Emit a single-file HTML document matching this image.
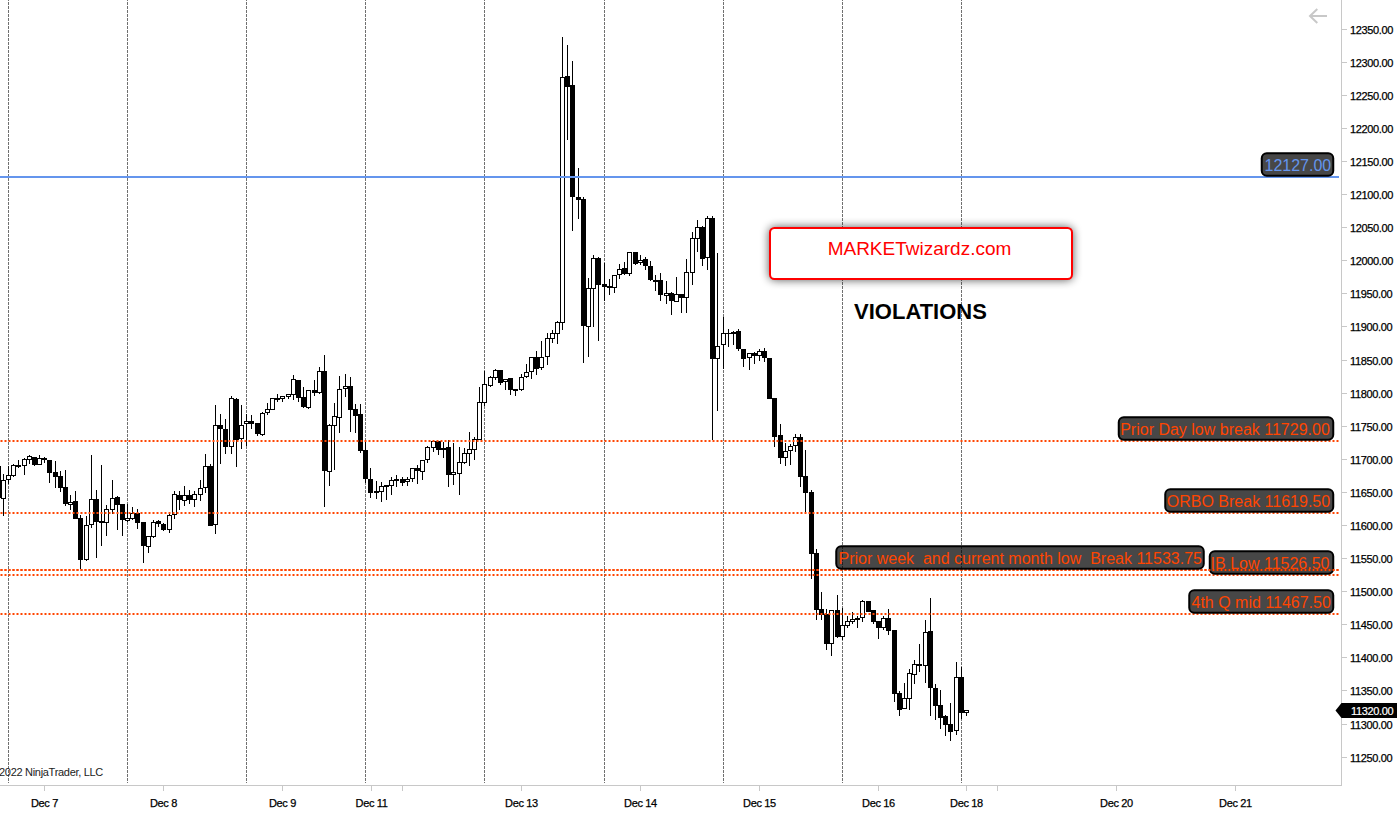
<!DOCTYPE html>
<html><head><meta charset="utf-8"><style>
html,body{margin:0;padding:0;background:#fff;}
svg{display:block;font-family:"Liberation Sans", sans-serif;}
text{white-space:pre;}
</style></head><body>
<svg width="1397" height="814" viewBox="0 0 1397 814">
<defs><filter id="sh" x="-20%" y="-50%" width="140%" height="200%"><feGaussianBlur stdDeviation="5"/></filter></defs>
<rect width="1397" height="814" fill="#fff"/>
<g stroke="#707070" stroke-width="1" stroke-dasharray="3 1" stroke-dashoffset="2" shape-rendering="crispEdges"><line x1="8.5" y1="0" x2="8.5" y2="783" /><line x1="127.5" y1="0" x2="127.5" y2="783" /><line x1="246.5" y1="0" x2="246.5" y2="783" /><line x1="365.5" y1="0" x2="365.5" y2="783" /><line x1="484.5" y1="0" x2="484.5" y2="783" /><line x1="604.5" y1="0" x2="604.5" y2="783" /><line x1="723.5" y1="0" x2="723.5" y2="783" /><line x1="842.5" y1="0" x2="842.5" y2="783" /><line x1="961.5" y1="0" x2="961.5" y2="783" /></g>
<g shape-rendering="crispEdges"><rect x="-4" y="466" width="5" height="32" fill="#000"/><rect x="3" y="474" width="1" height="6" fill="#000"/><rect x="3" y="499" width="1" height="17" fill="#000"/><rect x="1" y="480" width="5" height="19" fill="#000"/><rect x="2" y="481" width="3" height="17" fill="#fff"/><rect x="8" y="466" width="1" height="9" fill="#000"/><rect x="8" y="480" width="1" height="4" fill="#000"/><rect x="6" y="475" width="5" height="5" fill="#000"/><rect x="7" y="476" width="3" height="3" fill="#fff"/><rect x="13" y="464" width="1" height="1" fill="#000"/><rect x="13" y="476" width="1" height="1" fill="#000"/><rect x="11" y="465" width="5" height="11" fill="#000"/><rect x="12" y="466" width="3" height="9" fill="#fff"/><rect x="18" y="460" width="1" height="5" fill="#000"/><rect x="18" y="467" width="1" height="1" fill="#000"/><rect x="16" y="465" width="5" height="2" fill="#000"/><rect x="24" y="458" width="1" height="1" fill="#000"/><rect x="24" y="466" width="1" height="9" fill="#000"/><rect x="22" y="459" width="5" height="7" fill="#000"/><rect x="23" y="460" width="3" height="5" fill="#fff"/><rect x="29" y="455" width="1" height="1" fill="#000"/><rect x="29" y="460" width="1" height="4" fill="#000"/><rect x="27" y="456" width="5" height="4" fill="#000"/><rect x="28" y="457" width="3" height="2" fill="#fff"/><rect x="34" y="465" width="1" height="1" fill="#000"/><rect x="32" y="457" width="5" height="8" fill="#000"/><rect x="39" y="455" width="1" height="3" fill="#000"/><rect x="37" y="458" width="5" height="7" fill="#000"/><rect x="38" y="459" width="3" height="5" fill="#fff"/><rect x="44" y="457" width="1" height="1" fill="#000"/><rect x="44" y="460" width="1" height="3" fill="#000"/><rect x="42" y="458" width="5" height="2" fill="#000"/><rect x="49" y="473" width="1" height="10" fill="#000"/><rect x="47" y="460" width="5" height="13" fill="#000"/><rect x="55" y="461" width="1" height="11" fill="#000"/><rect x="55" y="477" width="1" height="11" fill="#000"/><rect x="53" y="472" width="5" height="5" fill="#000"/><rect x="60" y="471" width="1" height="5" fill="#000"/><rect x="60" y="488" width="1" height="4" fill="#000"/><rect x="58" y="476" width="5" height="12" fill="#000"/><rect x="65" y="470" width="1" height="17" fill="#000"/><rect x="65" y="504" width="1" height="2" fill="#000"/><rect x="63" y="487" width="5" height="17" fill="#000"/><rect x="70" y="495" width="1" height="7" fill="#000"/><rect x="70" y="504" width="1" height="6" fill="#000"/><rect x="68" y="502" width="5" height="3" fill="#000"/><rect x="69" y="503" width="3" height="1" fill="#fff"/><rect x="75" y="491" width="1" height="10" fill="#000"/><rect x="73" y="501" width="5" height="18" fill="#000"/><rect x="80" y="515" width="1" height="3" fill="#000"/><rect x="80" y="560" width="1" height="9" fill="#000"/><rect x="78" y="518" width="5" height="42" fill="#000"/><rect x="86" y="516" width="1" height="9" fill="#000"/><rect x="86" y="560" width="1" height="1" fill="#000"/><rect x="84" y="525" width="5" height="35" fill="#000"/><rect x="85" y="526" width="3" height="33" fill="#fff"/><rect x="91" y="455" width="1" height="44" fill="#000"/><rect x="91" y="525" width="1" height="3" fill="#000"/><rect x="89" y="499" width="5" height="26" fill="#000"/><rect x="90" y="500" width="3" height="24" fill="#fff"/><rect x="96" y="490" width="1" height="9" fill="#000"/><rect x="96" y="522" width="1" height="36" fill="#000"/><rect x="94" y="499" width="5" height="23" fill="#000"/><rect x="101" y="465" width="1" height="56" fill="#000"/><rect x="101" y="523" width="1" height="23" fill="#000"/><rect x="99" y="521" width="5" height="2" fill="#000"/><rect x="106" y="505" width="1" height="4" fill="#000"/><rect x="106" y="523" width="1" height="13" fill="#000"/><rect x="104" y="509" width="5" height="14" fill="#000"/><rect x="105" y="510" width="3" height="12" fill="#fff"/><rect x="112" y="480" width="1" height="18" fill="#000"/><rect x="112" y="510" width="1" height="4" fill="#000"/><rect x="110" y="498" width="5" height="12" fill="#000"/><rect x="111" y="499" width="3" height="10" fill="#fff"/><rect x="117" y="496" width="1" height="1" fill="#000"/><rect x="117" y="505" width="1" height="25" fill="#000"/><rect x="115" y="497" width="5" height="8" fill="#000"/><rect x="122" y="520" width="1" height="16" fill="#000"/><rect x="120" y="504" width="5" height="16" fill="#000"/><rect x="127" y="504" width="1" height="14" fill="#000"/><rect x="127" y="520" width="1" height="2" fill="#000"/><rect x="125" y="518" width="5" height="3" fill="#000"/><rect x="126" y="519" width="3" height="1" fill="#fff"/><rect x="132" y="507" width="1" height="6" fill="#000"/><rect x="132" y="519" width="1" height="1" fill="#000"/><rect x="130" y="513" width="5" height="6" fill="#000"/><rect x="131" y="514" width="3" height="4" fill="#fff"/><rect x="137" y="509" width="1" height="4" fill="#000"/><rect x="137" y="523" width="1" height="6" fill="#000"/><rect x="135" y="513" width="5" height="10" fill="#000"/><rect x="143" y="546" width="1" height="17" fill="#000"/><rect x="141" y="522" width="5" height="24" fill="#000"/><rect x="148" y="547" width="1" height="6" fill="#000"/><rect x="146" y="536" width="5" height="11" fill="#000"/><rect x="147" y="537" width="3" height="9" fill="#fff"/><rect x="153" y="520" width="1" height="2" fill="#000"/><rect x="153" y="537" width="1" height="1" fill="#000"/><rect x="151" y="522" width="5" height="15" fill="#000"/><rect x="152" y="523" width="3" height="13" fill="#fff"/><rect x="158" y="520" width="1" height="1" fill="#000"/><rect x="158" y="524" width="1" height="3" fill="#000"/><rect x="156" y="521" width="5" height="3" fill="#000"/><rect x="163" y="523" width="1" height="1" fill="#000"/><rect x="163" y="530" width="1" height="1" fill="#000"/><rect x="161" y="524" width="5" height="6" fill="#000"/><rect x="169" y="514" width="1" height="1" fill="#000"/><rect x="169" y="530" width="1" height="3" fill="#000"/><rect x="167" y="515" width="5" height="15" fill="#000"/><rect x="168" y="516" width="3" height="13" fill="#fff"/><rect x="174" y="491" width="1" height="3" fill="#000"/><rect x="174" y="515" width="1" height="4" fill="#000"/><rect x="172" y="494" width="5" height="21" fill="#000"/><rect x="173" y="495" width="3" height="19" fill="#fff"/><rect x="179" y="491" width="1" height="4" fill="#000"/><rect x="179" y="500" width="1" height="10" fill="#000"/><rect x="177" y="495" width="5" height="5" fill="#000"/><rect x="184" y="486" width="1" height="9" fill="#000"/><rect x="184" y="501" width="1" height="5" fill="#000"/><rect x="182" y="495" width="5" height="6" fill="#000"/><rect x="183" y="496" width="3" height="4" fill="#fff"/><rect x="189" y="490" width="1" height="5" fill="#000"/><rect x="189" y="500" width="1" height="4" fill="#000"/><rect x="187" y="495" width="5" height="5" fill="#000"/><rect x="194" y="491" width="1" height="3" fill="#000"/><rect x="194" y="500" width="1" height="7" fill="#000"/><rect x="192" y="494" width="5" height="6" fill="#000"/><rect x="193" y="495" width="3" height="4" fill="#fff"/><rect x="200" y="480" width="1" height="8" fill="#000"/><rect x="200" y="495" width="1" height="6" fill="#000"/><rect x="198" y="488" width="5" height="7" fill="#000"/><rect x="199" y="489" width="3" height="5" fill="#fff"/><rect x="205" y="454" width="1" height="12" fill="#000"/><rect x="205" y="488" width="1" height="5" fill="#000"/><rect x="203" y="466" width="5" height="22" fill="#000"/><rect x="204" y="467" width="3" height="20" fill="#fff"/><rect x="210" y="464" width="1" height="2" fill="#000"/><rect x="208" y="466" width="5" height="60" fill="#000"/><rect x="215" y="405" width="1" height="20" fill="#000"/><rect x="215" y="525" width="1" height="9" fill="#000"/><rect x="213" y="425" width="5" height="100" fill="#000"/><rect x="214" y="426" width="3" height="98" fill="#fff"/><rect x="220" y="414" width="1" height="11" fill="#000"/><rect x="220" y="429" width="1" height="35" fill="#000"/><rect x="218" y="425" width="5" height="4" fill="#000"/><rect x="225" y="419" width="1" height="10" fill="#000"/><rect x="225" y="447" width="1" height="7" fill="#000"/><rect x="223" y="429" width="5" height="18" fill="#000"/><rect x="231" y="396" width="1" height="2" fill="#000"/><rect x="231" y="447" width="1" height="7" fill="#000"/><rect x="229" y="398" width="5" height="49" fill="#000"/><rect x="230" y="399" width="3" height="47" fill="#fff"/><rect x="236" y="398" width="1" height="1" fill="#000"/><rect x="236" y="440" width="1" height="27" fill="#000"/><rect x="234" y="399" width="5" height="41" fill="#000"/><rect x="241" y="405" width="1" height="20" fill="#000"/><rect x="241" y="439" width="1" height="10" fill="#000"/><rect x="239" y="425" width="5" height="14" fill="#000"/><rect x="240" y="426" width="3" height="12" fill="#fff"/><rect x="246" y="414" width="1" height="7" fill="#000"/><rect x="246" y="424" width="1" height="22" fill="#000"/><rect x="244" y="421" width="5" height="3" fill="#000"/><rect x="245" y="422" width="3" height="1" fill="#fff"/><rect x="251" y="415" width="1" height="6" fill="#000"/><rect x="251" y="424" width="1" height="5" fill="#000"/><rect x="249" y="421" width="5" height="3" fill="#000"/><rect x="257" y="434" width="1" height="2" fill="#000"/><rect x="255" y="423" width="5" height="11" fill="#000"/><rect x="262" y="412" width="1" height="1" fill="#000"/><rect x="262" y="435" width="1" height="1" fill="#000"/><rect x="260" y="413" width="5" height="22" fill="#000"/><rect x="261" y="414" width="3" height="20" fill="#fff"/><rect x="267" y="403" width="1" height="6" fill="#000"/><rect x="267" y="413" width="1" height="2" fill="#000"/><rect x="265" y="409" width="5" height="4" fill="#000"/><rect x="266" y="410" width="3" height="2" fill="#fff"/><rect x="270" y="398" width="5" height="12" fill="#000"/><rect x="271" y="399" width="3" height="10" fill="#fff"/><rect x="277" y="394" width="1" height="4" fill="#000"/><rect x="277" y="400" width="1" height="2" fill="#000"/><rect x="275" y="398" width="5" height="2" fill="#000"/><rect x="282" y="399" width="1" height="3" fill="#000"/><rect x="280" y="396" width="5" height="3" fill="#000"/><rect x="281" y="397" width="3" height="1" fill="#fff"/><rect x="288" y="397" width="1" height="2" fill="#000"/><rect x="286" y="394" width="5" height="3" fill="#000"/><rect x="287" y="395" width="3" height="1" fill="#fff"/><rect x="293" y="375" width="1" height="4" fill="#000"/><rect x="293" y="395" width="1" height="5" fill="#000"/><rect x="291" y="379" width="5" height="16" fill="#000"/><rect x="292" y="380" width="3" height="14" fill="#fff"/><rect x="298" y="398" width="1" height="4" fill="#000"/><rect x="296" y="380" width="5" height="18" fill="#000"/><rect x="303" y="387" width="1" height="10" fill="#000"/><rect x="303" y="407" width="1" height="1" fill="#000"/><rect x="301" y="397" width="5" height="10" fill="#000"/><rect x="308" y="408" width="1" height="1" fill="#000"/><rect x="306" y="390" width="5" height="18" fill="#000"/><rect x="307" y="391" width="3" height="16" fill="#fff"/><rect x="314" y="380" width="1" height="10" fill="#000"/><rect x="314" y="393" width="1" height="3" fill="#000"/><rect x="312" y="390" width="5" height="3" fill="#000"/><rect x="319" y="367" width="1" height="4" fill="#000"/><rect x="319" y="393" width="1" height="1" fill="#000"/><rect x="317" y="371" width="5" height="22" fill="#000"/><rect x="318" y="372" width="3" height="20" fill="#fff"/><rect x="324" y="355" width="1" height="16" fill="#000"/><rect x="324" y="471" width="1" height="36" fill="#000"/><rect x="322" y="371" width="5" height="100" fill="#000"/><rect x="329" y="424" width="1" height="1" fill="#000"/><rect x="329" y="472" width="1" height="14" fill="#000"/><rect x="327" y="425" width="5" height="47" fill="#000"/><rect x="328" y="426" width="3" height="45" fill="#fff"/><rect x="334" y="403" width="1" height="13" fill="#000"/><rect x="334" y="426" width="1" height="44" fill="#000"/><rect x="332" y="416" width="5" height="10" fill="#000"/><rect x="333" y="417" width="3" height="8" fill="#fff"/><rect x="339" y="376" width="1" height="13" fill="#000"/><rect x="339" y="418" width="1" height="15" fill="#000"/><rect x="337" y="389" width="5" height="29" fill="#000"/><rect x="338" y="390" width="3" height="27" fill="#fff"/><rect x="345" y="374" width="1" height="12" fill="#000"/><rect x="345" y="388" width="1" height="9" fill="#000"/><rect x="343" y="386" width="5" height="3" fill="#000"/><rect x="344" y="387" width="3" height="1" fill="#fff"/><rect x="350" y="377" width="1" height="9" fill="#000"/><rect x="350" y="410" width="1" height="22" fill="#000"/><rect x="348" y="386" width="5" height="24" fill="#000"/><rect x="355" y="404" width="1" height="5" fill="#000"/><rect x="355" y="416" width="1" height="17" fill="#000"/><rect x="353" y="409" width="5" height="7" fill="#000"/><rect x="360" y="404" width="1" height="10" fill="#000"/><rect x="360" y="451" width="1" height="2" fill="#000"/><rect x="358" y="414" width="5" height="37" fill="#000"/><rect x="365" y="441" width="1" height="9" fill="#000"/><rect x="365" y="479" width="1" height="4" fill="#000"/><rect x="363" y="450" width="5" height="29" fill="#000"/><rect x="370" y="468" width="1" height="11" fill="#000"/><rect x="370" y="493" width="1" height="5" fill="#000"/><rect x="368" y="479" width="5" height="14" fill="#000"/><rect x="376" y="481" width="1" height="10" fill="#000"/><rect x="376" y="493" width="1" height="6" fill="#000"/><rect x="374" y="491" width="5" height="2" fill="#000"/><rect x="381" y="482" width="1" height="4" fill="#000"/><rect x="381" y="492" width="1" height="10" fill="#000"/><rect x="379" y="486" width="5" height="6" fill="#000"/><rect x="380" y="487" width="3" height="4" fill="#fff"/><rect x="386" y="487" width="1" height="13" fill="#000"/><rect x="384" y="485" width="5" height="2" fill="#000"/><rect x="391" y="477" width="1" height="3" fill="#000"/><rect x="391" y="486" width="1" height="9" fill="#000"/><rect x="389" y="480" width="5" height="6" fill="#000"/><rect x="390" y="481" width="3" height="4" fill="#fff"/><rect x="396" y="475" width="1" height="4" fill="#000"/><rect x="396" y="481" width="1" height="6" fill="#000"/><rect x="394" y="479" width="5" height="2" fill="#000"/><rect x="402" y="477" width="1" height="2" fill="#000"/><rect x="402" y="483" width="1" height="3" fill="#000"/><rect x="400" y="479" width="5" height="4" fill="#000"/><rect x="407" y="477" width="1" height="2" fill="#000"/><rect x="407" y="482" width="1" height="4" fill="#000"/><rect x="405" y="479" width="5" height="3" fill="#000"/><rect x="406" y="480" width="3" height="1" fill="#fff"/><rect x="412" y="479" width="1" height="3" fill="#000"/><rect x="410" y="468" width="5" height="11" fill="#000"/><rect x="411" y="469" width="3" height="9" fill="#fff"/><rect x="417" y="465" width="1" height="3" fill="#000"/><rect x="417" y="471" width="1" height="13" fill="#000"/><rect x="415" y="468" width="5" height="3" fill="#000"/><rect x="422" y="472" width="1" height="8" fill="#000"/><rect x="420" y="460" width="5" height="12" fill="#000"/><rect x="421" y="461" width="3" height="10" fill="#fff"/><rect x="427" y="446" width="1" height="1" fill="#000"/><rect x="427" y="460" width="1" height="3" fill="#000"/><rect x="425" y="447" width="5" height="13" fill="#000"/><rect x="426" y="448" width="3" height="11" fill="#fff"/><rect x="433" y="448" width="1" height="4" fill="#000"/><rect x="431" y="441" width="5" height="7" fill="#000"/><rect x="432" y="442" width="3" height="5" fill="#fff"/><rect x="438" y="450" width="1" height="5" fill="#000"/><rect x="436" y="441" width="5" height="9" fill="#000"/><rect x="443" y="442" width="1" height="6" fill="#000"/><rect x="443" y="450" width="1" height="8" fill="#000"/><rect x="441" y="448" width="5" height="2" fill="#000"/><rect x="448" y="440" width="1" height="7" fill="#000"/><rect x="448" y="475" width="1" height="12" fill="#000"/><rect x="446" y="447" width="5" height="28" fill="#000"/><rect x="453" y="443" width="1" height="29" fill="#000"/><rect x="453" y="475" width="1" height="10" fill="#000"/><rect x="451" y="472" width="5" height="3" fill="#000"/><rect x="452" y="473" width="3" height="1" fill="#fff"/><rect x="459" y="447" width="1" height="15" fill="#000"/><rect x="459" y="474" width="1" height="21" fill="#000"/><rect x="457" y="462" width="5" height="12" fill="#000"/><rect x="458" y="463" width="3" height="10" fill="#fff"/><rect x="464" y="448" width="1" height="5" fill="#000"/><rect x="464" y="463" width="1" height="1" fill="#000"/><rect x="462" y="453" width="5" height="10" fill="#000"/><rect x="463" y="454" width="3" height="8" fill="#fff"/><rect x="469" y="432" width="1" height="17" fill="#000"/><rect x="469" y="454" width="1" height="12" fill="#000"/><rect x="467" y="449" width="5" height="5" fill="#000"/><rect x="468" y="450" width="3" height="3" fill="#fff"/><rect x="474" y="437" width="1" height="2" fill="#000"/><rect x="474" y="450" width="1" height="10" fill="#000"/><rect x="472" y="439" width="5" height="11" fill="#000"/><rect x="473" y="440" width="3" height="9" fill="#fff"/><rect x="479" y="387" width="1" height="15" fill="#000"/><rect x="477" y="402" width="5" height="38" fill="#000"/><rect x="478" y="403" width="3" height="36" fill="#fff"/><rect x="484" y="371" width="1" height="13" fill="#000"/><rect x="484" y="403" width="1" height="3" fill="#000"/><rect x="482" y="384" width="5" height="19" fill="#000"/><rect x="483" y="385" width="3" height="17" fill="#fff"/><rect x="490" y="376" width="1" height="1" fill="#000"/><rect x="490" y="386" width="1" height="1" fill="#000"/><rect x="488" y="377" width="5" height="9" fill="#000"/><rect x="489" y="378" width="3" height="7" fill="#fff"/><rect x="495" y="369" width="1" height="1" fill="#000"/><rect x="495" y="378" width="1" height="2" fill="#000"/><rect x="493" y="370" width="5" height="8" fill="#000"/><rect x="494" y="371" width="3" height="6" fill="#fff"/><rect x="500" y="383" width="1" height="2" fill="#000"/><rect x="498" y="370" width="5" height="13" fill="#000"/><rect x="505" y="382" width="1" height="8" fill="#000"/><rect x="503" y="379" width="5" height="3" fill="#000"/><rect x="504" y="380" width="3" height="1" fill="#fff"/><rect x="510" y="390" width="1" height="5" fill="#000"/><rect x="508" y="378" width="5" height="12" fill="#000"/><rect x="515" y="391" width="1" height="5" fill="#000"/><rect x="513" y="389" width="5" height="2" fill="#000"/><rect x="521" y="374" width="1" height="3" fill="#000"/><rect x="521" y="390" width="1" height="1" fill="#000"/><rect x="519" y="377" width="5" height="13" fill="#000"/><rect x="520" y="378" width="3" height="11" fill="#fff"/><rect x="526" y="364" width="1" height="8" fill="#000"/><rect x="526" y="377" width="1" height="1" fill="#000"/><rect x="524" y="372" width="5" height="5" fill="#000"/><rect x="525" y="373" width="3" height="3" fill="#fff"/><rect x="531" y="372" width="1" height="7" fill="#000"/><rect x="529" y="357" width="5" height="15" fill="#000"/><rect x="530" y="358" width="3" height="13" fill="#fff"/><rect x="536" y="351" width="1" height="6" fill="#000"/><rect x="536" y="369" width="1" height="6" fill="#000"/><rect x="534" y="357" width="5" height="12" fill="#000"/><rect x="541" y="341" width="1" height="16" fill="#000"/><rect x="541" y="368" width="1" height="2" fill="#000"/><rect x="539" y="357" width="5" height="11" fill="#000"/><rect x="540" y="358" width="3" height="9" fill="#fff"/><rect x="547" y="333" width="1" height="5" fill="#000"/><rect x="547" y="357" width="1" height="8" fill="#000"/><rect x="545" y="338" width="5" height="19" fill="#000"/><rect x="546" y="339" width="3" height="17" fill="#fff"/><rect x="552" y="330" width="1" height="3" fill="#000"/><rect x="552" y="339" width="1" height="4" fill="#000"/><rect x="550" y="333" width="5" height="6" fill="#000"/><rect x="551" y="334" width="3" height="4" fill="#fff"/><rect x="557" y="321" width="1" height="1" fill="#000"/><rect x="557" y="334" width="1" height="10" fill="#000"/><rect x="555" y="322" width="5" height="12" fill="#000"/><rect x="556" y="323" width="3" height="10" fill="#fff"/><rect x="562" y="37" width="1" height="40" fill="#000"/><rect x="562" y="323" width="1" height="7" fill="#000"/><rect x="560" y="77" width="5" height="246" fill="#000"/><rect x="561" y="78" width="3" height="244" fill="#fff"/><rect x="567" y="45" width="1" height="31" fill="#000"/><rect x="567" y="87" width="1" height="53" fill="#000"/><rect x="565" y="76" width="5" height="11" fill="#000"/><rect x="572" y="61" width="1" height="24" fill="#000"/><rect x="572" y="197" width="1" height="34" fill="#000"/><rect x="570" y="85" width="5" height="112" fill="#000"/><rect x="578" y="168" width="1" height="29" fill="#000"/><rect x="578" y="200" width="1" height="19" fill="#000"/><rect x="576" y="197" width="5" height="3" fill="#000"/><rect x="583" y="197" width="1" height="2" fill="#000"/><rect x="583" y="326" width="1" height="37" fill="#000"/><rect x="581" y="199" width="5" height="127" fill="#000"/><rect x="588" y="278" width="1" height="10" fill="#000"/><rect x="588" y="327" width="1" height="30" fill="#000"/><rect x="586" y="288" width="5" height="39" fill="#000"/><rect x="587" y="289" width="3" height="37" fill="#fff"/><rect x="593" y="255" width="1" height="3" fill="#000"/><rect x="593" y="289" width="1" height="38" fill="#000"/><rect x="591" y="258" width="5" height="31" fill="#000"/><rect x="592" y="259" width="3" height="29" fill="#fff"/><rect x="598" y="257" width="1" height="1" fill="#000"/><rect x="598" y="285" width="1" height="56" fill="#000"/><rect x="596" y="258" width="5" height="27" fill="#000"/><rect x="604" y="263" width="1" height="21" fill="#000"/><rect x="604" y="287" width="1" height="14" fill="#000"/><rect x="602" y="284" width="5" height="3" fill="#000"/><rect x="609" y="279" width="1" height="7" fill="#000"/><rect x="609" y="288" width="1" height="7" fill="#000"/><rect x="607" y="286" width="5" height="2" fill="#000"/><rect x="614" y="288" width="1" height="5" fill="#000"/><rect x="612" y="275" width="5" height="13" fill="#000"/><rect x="613" y="276" width="3" height="11" fill="#fff"/><rect x="619" y="264" width="1" height="5" fill="#000"/><rect x="619" y="275" width="1" height="4" fill="#000"/><rect x="617" y="269" width="5" height="6" fill="#000"/><rect x="618" y="270" width="3" height="4" fill="#fff"/><rect x="624" y="262" width="1" height="6" fill="#000"/><rect x="624" y="274" width="1" height="1" fill="#000"/><rect x="622" y="268" width="5" height="6" fill="#000"/><rect x="629" y="274" width="1" height="2" fill="#000"/><rect x="627" y="252" width="5" height="22" fill="#000"/><rect x="628" y="253" width="3" height="20" fill="#fff"/><rect x="635" y="264" width="1" height="1" fill="#000"/><rect x="633" y="252" width="5" height="12" fill="#000"/><rect x="640" y="255" width="1" height="5" fill="#000"/><rect x="640" y="262" width="1" height="3" fill="#000"/><rect x="638" y="260" width="5" height="3" fill="#000"/><rect x="639" y="261" width="3" height="1" fill="#fff"/><rect x="645" y="257" width="1" height="2" fill="#000"/><rect x="645" y="266" width="1" height="4" fill="#000"/><rect x="643" y="259" width="5" height="7" fill="#000"/><rect x="650" y="261" width="1" height="5" fill="#000"/><rect x="650" y="280" width="1" height="1" fill="#000"/><rect x="648" y="266" width="5" height="14" fill="#000"/><rect x="655" y="275" width="1" height="5" fill="#000"/><rect x="655" y="282" width="1" height="9" fill="#000"/><rect x="653" y="280" width="5" height="2" fill="#000"/><rect x="660" y="273" width="1" height="7" fill="#000"/><rect x="660" y="295" width="1" height="6" fill="#000"/><rect x="658" y="280" width="5" height="15" fill="#000"/><rect x="666" y="281" width="1" height="12" fill="#000"/><rect x="666" y="296" width="1" height="8" fill="#000"/><rect x="664" y="293" width="5" height="3" fill="#000"/><rect x="665" y="294" width="3" height="1" fill="#fff"/><rect x="671" y="292" width="1" height="1" fill="#000"/><rect x="671" y="301" width="1" height="14" fill="#000"/><rect x="669" y="293" width="5" height="8" fill="#000"/><rect x="676" y="277" width="1" height="17" fill="#000"/><rect x="674" y="294" width="5" height="8" fill="#000"/><rect x="675" y="295" width="3" height="6" fill="#fff"/><rect x="681" y="298" width="1" height="15" fill="#000"/><rect x="679" y="294" width="5" height="4" fill="#000"/><rect x="686" y="259" width="1" height="13" fill="#000"/><rect x="686" y="298" width="1" height="15" fill="#000"/><rect x="684" y="272" width="5" height="26" fill="#000"/><rect x="685" y="273" width="3" height="24" fill="#fff"/><rect x="692" y="232" width="1" height="6" fill="#000"/><rect x="692" y="273" width="1" height="12" fill="#000"/><rect x="690" y="238" width="5" height="35" fill="#000"/><rect x="691" y="239" width="3" height="33" fill="#fff"/><rect x="697" y="220" width="1" height="7" fill="#000"/><rect x="697" y="239" width="1" height="13" fill="#000"/><rect x="695" y="227" width="5" height="12" fill="#000"/><rect x="696" y="228" width="3" height="10" fill="#fff"/><rect x="702" y="226" width="1" height="1" fill="#000"/><rect x="702" y="259" width="1" height="7" fill="#000"/><rect x="700" y="227" width="5" height="32" fill="#000"/><rect x="707" y="216" width="1" height="2" fill="#000"/><rect x="707" y="258" width="1" height="12" fill="#000"/><rect x="705" y="218" width="5" height="40" fill="#000"/><rect x="706" y="219" width="3" height="38" fill="#fff"/><rect x="712" y="216" width="1" height="2" fill="#000"/><rect x="712" y="359" width="1" height="81" fill="#000"/><rect x="710" y="218" width="5" height="141" fill="#000"/><rect x="717" y="253" width="1" height="93" fill="#000"/><rect x="717" y="359" width="1" height="52" fill="#000"/><rect x="715" y="346" width="5" height="13" fill="#000"/><rect x="716" y="347" width="3" height="11" fill="#fff"/><rect x="723" y="317" width="1" height="16" fill="#000"/><rect x="723" y="345" width="1" height="24" fill="#000"/><rect x="721" y="333" width="5" height="12" fill="#000"/><rect x="722" y="334" width="3" height="10" fill="#fff"/><rect x="728" y="329" width="1" height="4" fill="#000"/><rect x="728" y="334" width="1" height="13" fill="#000"/><rect x="726" y="333" width="5" height="1" fill="#000"/><rect x="733" y="331" width="1" height="1" fill="#000"/><rect x="733" y="334" width="1" height="11" fill="#000"/><rect x="731" y="332" width="5" height="2" fill="#000"/><rect x="738" y="329" width="1" height="2" fill="#000"/><rect x="738" y="349" width="1" height="2" fill="#000"/><rect x="736" y="331" width="5" height="18" fill="#000"/><rect x="743" y="359" width="1" height="8" fill="#000"/><rect x="741" y="349" width="5" height="10" fill="#000"/><rect x="749" y="358" width="1" height="12" fill="#000"/><rect x="747" y="353" width="5" height="5" fill="#000"/><rect x="748" y="354" width="3" height="3" fill="#fff"/><rect x="754" y="352" width="1" height="1" fill="#000"/><rect x="754" y="356" width="1" height="8" fill="#000"/><rect x="752" y="353" width="5" height="3" fill="#000"/><rect x="759" y="349" width="1" height="2" fill="#000"/><rect x="759" y="356" width="1" height="5" fill="#000"/><rect x="757" y="351" width="5" height="5" fill="#000"/><rect x="758" y="352" width="3" height="3" fill="#fff"/><rect x="764" y="348" width="1" height="3" fill="#000"/><rect x="764" y="358" width="1" height="4" fill="#000"/><rect x="762" y="351" width="5" height="7" fill="#000"/><rect x="767" y="358" width="5" height="41" fill="#000"/><rect x="774" y="437" width="1" height="10" fill="#000"/><rect x="772" y="398" width="5" height="39" fill="#000"/><rect x="780" y="424" width="1" height="11" fill="#000"/><rect x="780" y="458" width="1" height="6" fill="#000"/><rect x="778" y="435" width="5" height="23" fill="#000"/><rect x="785" y="443" width="1" height="8" fill="#000"/><rect x="785" y="458" width="1" height="8" fill="#000"/><rect x="783" y="451" width="5" height="7" fill="#000"/><rect x="784" y="452" width="3" height="5" fill="#fff"/><rect x="790" y="444" width="1" height="2" fill="#000"/><rect x="790" y="451" width="1" height="14" fill="#000"/><rect x="788" y="446" width="5" height="5" fill="#000"/><rect x="789" y="447" width="3" height="3" fill="#fff"/><rect x="795" y="434" width="1" height="3" fill="#000"/><rect x="795" y="446" width="1" height="6" fill="#000"/><rect x="793" y="437" width="5" height="9" fill="#000"/><rect x="794" y="438" width="3" height="7" fill="#fff"/><rect x="800" y="434" width="1" height="3" fill="#000"/><rect x="800" y="477" width="1" height="10" fill="#000"/><rect x="798" y="437" width="5" height="40" fill="#000"/><rect x="805" y="450" width="1" height="26" fill="#000"/><rect x="805" y="493" width="1" height="19" fill="#000"/><rect x="803" y="476" width="5" height="17" fill="#000"/><rect x="811" y="490" width="1" height="2" fill="#000"/><rect x="811" y="554" width="1" height="25" fill="#000"/><rect x="809" y="492" width="5" height="62" fill="#000"/><rect x="816" y="549" width="1" height="4" fill="#000"/><rect x="816" y="610" width="1" height="10" fill="#000"/><rect x="814" y="553" width="5" height="57" fill="#000"/><rect x="821" y="592" width="1" height="17" fill="#000"/><rect x="821" y="615" width="1" height="5" fill="#000"/><rect x="819" y="609" width="5" height="6" fill="#000"/><rect x="826" y="609" width="1" height="5" fill="#000"/><rect x="826" y="644" width="1" height="6" fill="#000"/><rect x="824" y="614" width="5" height="30" fill="#000"/><rect x="831" y="644" width="1" height="12" fill="#000"/><rect x="829" y="610" width="5" height="34" fill="#000"/><rect x="830" y="611" width="3" height="32" fill="#fff"/><rect x="837" y="595" width="1" height="15" fill="#000"/><rect x="837" y="637" width="1" height="1" fill="#000"/><rect x="835" y="610" width="5" height="27" fill="#000"/><rect x="842" y="608" width="1" height="17" fill="#000"/><rect x="842" y="637" width="1" height="3" fill="#000"/><rect x="840" y="625" width="5" height="12" fill="#000"/><rect x="841" y="626" width="3" height="10" fill="#fff"/><rect x="847" y="616" width="1" height="5" fill="#000"/><rect x="847" y="626" width="1" height="2" fill="#000"/><rect x="845" y="621" width="5" height="5" fill="#000"/><rect x="846" y="622" width="3" height="3" fill="#fff"/><rect x="852" y="612" width="1" height="7" fill="#000"/><rect x="852" y="622" width="1" height="2" fill="#000"/><rect x="850" y="619" width="5" height="3" fill="#000"/><rect x="851" y="620" width="3" height="1" fill="#fff"/><rect x="857" y="616" width="1" height="2" fill="#000"/><rect x="857" y="620" width="1" height="8" fill="#000"/><rect x="855" y="618" width="5" height="2" fill="#000"/><rect x="862" y="600" width="1" height="1" fill="#000"/><rect x="862" y="618" width="1" height="4" fill="#000"/><rect x="860" y="601" width="5" height="17" fill="#000"/><rect x="861" y="602" width="3" height="15" fill="#fff"/><rect x="866" y="601" width="5" height="11" fill="#000"/><rect x="873" y="622" width="1" height="2" fill="#000"/><rect x="871" y="610" width="5" height="12" fill="#000"/><rect x="878" y="628" width="1" height="11" fill="#000"/><rect x="876" y="621" width="5" height="7" fill="#000"/><rect x="883" y="616" width="1" height="2" fill="#000"/><rect x="883" y="628" width="1" height="2" fill="#000"/><rect x="881" y="618" width="5" height="10" fill="#000"/><rect x="882" y="619" width="3" height="8" fill="#fff"/><rect x="888" y="609" width="1" height="9" fill="#000"/><rect x="888" y="631" width="1" height="4" fill="#000"/><rect x="886" y="618" width="5" height="13" fill="#000"/><rect x="894" y="694" width="1" height="8" fill="#000"/><rect x="892" y="630" width="5" height="64" fill="#000"/><rect x="899" y="691" width="1" height="2" fill="#000"/><rect x="899" y="710" width="1" height="6" fill="#000"/><rect x="897" y="693" width="5" height="17" fill="#000"/><rect x="904" y="683" width="1" height="15" fill="#000"/><rect x="902" y="698" width="5" height="11" fill="#000"/><rect x="903" y="699" width="3" height="9" fill="#fff"/><rect x="909" y="669" width="1" height="4" fill="#000"/><rect x="909" y="699" width="1" height="11" fill="#000"/><rect x="907" y="673" width="5" height="26" fill="#000"/><rect x="908" y="674" width="3" height="24" fill="#fff"/><rect x="914" y="660" width="1" height="4" fill="#000"/><rect x="914" y="675" width="1" height="9" fill="#000"/><rect x="912" y="664" width="5" height="11" fill="#000"/><rect x="913" y="665" width="3" height="9" fill="#fff"/><rect x="919" y="644" width="1" height="20" fill="#000"/><rect x="919" y="666" width="1" height="6" fill="#000"/><rect x="917" y="664" width="5" height="2" fill="#000"/><rect x="925" y="620" width="1" height="12" fill="#000"/><rect x="925" y="666" width="1" height="17" fill="#000"/><rect x="923" y="632" width="5" height="34" fill="#000"/><rect x="924" y="633" width="3" height="32" fill="#fff"/><rect x="930" y="598" width="1" height="33" fill="#000"/><rect x="930" y="688" width="1" height="28" fill="#000"/><rect x="928" y="631" width="5" height="57" fill="#000"/><rect x="935" y="684" width="1" height="4" fill="#000"/><rect x="935" y="706" width="1" height="14" fill="#000"/><rect x="933" y="688" width="5" height="18" fill="#000"/><rect x="940" y="690" width="1" height="15" fill="#000"/><rect x="940" y="718" width="1" height="11" fill="#000"/><rect x="938" y="705" width="5" height="13" fill="#000"/><rect x="945" y="715" width="1" height="1" fill="#000"/><rect x="945" y="725" width="1" height="11" fill="#000"/><rect x="943" y="716" width="5" height="9" fill="#000"/><rect x="950" y="703" width="1" height="21" fill="#000"/><rect x="950" y="732" width="1" height="9" fill="#000"/><rect x="948" y="724" width="5" height="8" fill="#000"/><rect x="956" y="662" width="1" height="15" fill="#000"/><rect x="956" y="731" width="1" height="4" fill="#000"/><rect x="954" y="677" width="5" height="54" fill="#000"/><rect x="955" y="678" width="3" height="52" fill="#fff"/><rect x="961" y="667" width="1" height="10" fill="#000"/><rect x="961" y="713" width="1" height="6" fill="#000"/><rect x="959" y="677" width="5" height="36" fill="#000"/><rect x="966" y="713" width="1" height="3" fill="#000"/><rect x="964" y="710" width="5" height="3" fill="#000"/><rect x="965" y="711" width="3" height="1" fill="#fff"/></g>
<line x1="0" y1="177" x2="1339" y2="177" stroke="#6495ed" stroke-width="2"/>
<line x1="0" y1="441" x2="1339" y2="441" stroke="#ff4500" stroke-width="2" stroke-dasharray="2 2" stroke-dashoffset="-0.5"/><line x1="0" y1="513" x2="1339" y2="513" stroke="#ff4500" stroke-width="2" stroke-dasharray="2 2" stroke-dashoffset="-0.5"/><line x1="0" y1="570" x2="1339" y2="570" stroke="#ff4500" stroke-width="2" stroke-dasharray="2 2" stroke-dashoffset="-0.5"/><line x1="0" y1="575" x2="1339" y2="575" stroke="#ff4500" stroke-width="2" stroke-dasharray="2 2" stroke-dashoffset="-0.5"/><line x1="0" y1="614" x2="1339" y2="614" stroke="#ff4500" stroke-width="2" stroke-dasharray="2 2" stroke-dashoffset="-0.5"/>
<rect x="1261.75" y="153.25" width="71.5" height="22.5" rx="5" ry="5" fill="rgba(0,0,0,0.72)" stroke="#000" stroke-width="2"/><text x="1264.5" y="171.0" fill="#6495ed" font-size="16">12127.00</text>
<rect x="1118.75" y="417.25" width="214.5" height="22.5" rx="5" ry="5" fill="rgba(0,0,0,0.72)" stroke="#000" stroke-width="2"/><text x="1120.2" y="435.0" fill="#ff4500" font-size="16">Prior Day low break 11729.00</text>
<rect x="1165.25" y="489.25" width="168.0" height="22.5" rx="5" ry="5" fill="rgba(0,0,0,0.72)" stroke="#000" stroke-width="2"/><text x="1166.8" y="507.0" fill="#ff4500" font-size="16">ORBO Break 11619.50</text>
<rect x="1209.75" y="551.25" width="123.5" height="22.5" rx="5" ry="5" fill="rgba(0,0,0,0.72)" stroke="#000" stroke-width="2"/><text x="1210.6" y="569.0" fill="#ff4500" font-size="16">IB Low 11526.50</text>
<line x1="0" y1="570" x2="1339" y2="570" stroke="#ff4500" stroke-width="2" stroke-dasharray="2 2" stroke-dashoffset="-0.5"/>
<rect x="836.25" y="546.25" width="367.5" height="22.5" rx="5" ry="5" fill="rgba(0,0,0,0.72)" stroke="#000" stroke-width="2"/><text x="838.5" y="564.0" fill="#ff4500" font-size="16">Prior week  and current month low  Break 11533.75</text>
<rect x="1189.25" y="590.25" width="144.0" height="22.5" rx="5" ry="5" fill="rgba(0,0,0,0.72)" stroke="#000" stroke-width="2"/><text x="1191.5" y="608.0" fill="#ff4500" font-size="16">4th Q mid 11467.50</text>
<rect x="769" y="227" width="304" height="53" rx="6" fill="#000" opacity="0.65" filter="url(#sh)"/>
<rect x="770" y="228" width="302" height="51" rx="4.5" fill="#fff" stroke="#f00" stroke-width="2"/>
<text x="919.5" y="255" fill="#f00" font-size="19" text-anchor="middle">MARKETwizardz.com</text>
<text transform="translate(920.5 319.2) scale(1 1.045)" x="0" y="0" fill="#000" font-size="22" font-weight="bold" text-anchor="middle">VIOLATIONS</text>
<g shape-rendering="crispEdges">
<rect x="1341" y="0" width="1" height="786" fill="#c8c8c8"/>
<rect x="0" y="785" width="1341" height="1" fill="#c8c8c8"/>
<rect x="1342" y="29" width="5" height="1" fill="#c8c8c8"/><rect x="1342" y="62" width="5" height="1" fill="#c8c8c8"/><rect x="1342" y="95" width="5" height="1" fill="#c8c8c8"/><rect x="1342" y="128" width="5" height="1" fill="#c8c8c8"/><rect x="1342" y="161" width="5" height="1" fill="#c8c8c8"/><rect x="1342" y="194" width="5" height="1" fill="#c8c8c8"/><rect x="1342" y="227" width="5" height="1" fill="#c8c8c8"/><rect x="1342" y="260" width="5" height="1" fill="#c8c8c8"/><rect x="1342" y="293" width="5" height="1" fill="#c8c8c8"/><rect x="1342" y="326" width="5" height="1" fill="#c8c8c8"/><rect x="1342" y="360" width="5" height="1" fill="#c8c8c8"/><rect x="1342" y="393" width="5" height="1" fill="#c8c8c8"/><rect x="1342" y="426" width="5" height="1" fill="#c8c8c8"/><rect x="1342" y="459" width="5" height="1" fill="#c8c8c8"/><rect x="1342" y="492" width="5" height="1" fill="#c8c8c8"/><rect x="1342" y="525" width="5" height="1" fill="#c8c8c8"/><rect x="1342" y="558" width="5" height="1" fill="#c8c8c8"/><rect x="1342" y="591" width="5" height="1" fill="#c8c8c8"/><rect x="1342" y="624" width="5" height="1" fill="#c8c8c8"/><rect x="1342" y="657" width="5" height="1" fill="#c8c8c8"/><rect x="1342" y="690" width="5" height="1" fill="#c8c8c8"/><rect x="1342" y="724" width="5" height="1" fill="#c8c8c8"/><rect x="1342" y="757" width="5" height="1" fill="#c8c8c8"/><rect x="44" y="786" width="1" height="5" fill="#c8c8c8"/><rect x="163" y="786" width="1" height="5" fill="#c8c8c8"/><rect x="282" y="786" width="1" height="5" fill="#c8c8c8"/><rect x="371" y="786" width="1" height="5" fill="#c8c8c8"/><rect x="402" y="786" width="1" height="5" fill="#c8c8c8"/><rect x="521" y="786" width="1" height="5" fill="#c8c8c8"/><rect x="640" y="786" width="1" height="5" fill="#c8c8c8"/><rect x="759" y="786" width="1" height="5" fill="#c8c8c8"/><rect x="878" y="786" width="1" height="5" fill="#c8c8c8"/><rect x="966" y="786" width="1" height="5" fill="#c8c8c8"/><rect x="997" y="786" width="1" height="5" fill="#c8c8c8"/><rect x="1116" y="786" width="1" height="5" fill="#c8c8c8"/><rect x="1235" y="786" width="1" height="5" fill="#c8c8c8"/>
</g>
<g font-size="11" fill="#000" stroke="#000" stroke-width="0.25" letter-spacing="-0.35"><text x="1350" y="34">12350.00</text><text x="1350" y="67">12300.00</text><text x="1350" y="100">12250.00</text><text x="1350" y="133">12200.00</text><text x="1350" y="166">12150.00</text><text x="1350" y="199">12100.00</text><text x="1350" y="232">12050.00</text><text x="1350" y="265">12000.00</text><text x="1350" y="298">11950.00</text><text x="1350" y="331">11900.00</text><text x="1350" y="365">11850.00</text><text x="1350" y="398">11800.00</text><text x="1350" y="431">11750.00</text><text x="1350" y="464">11700.00</text><text x="1350" y="497">11650.00</text><text x="1350" y="530">11600.00</text><text x="1350" y="563">11550.00</text><text x="1350" y="596">11500.00</text><text x="1350" y="629">11450.00</text><text x="1350" y="662">11400.00</text><text x="1350" y="695">11350.00</text><text x="1350" y="729">11300.00</text><text x="1350" y="762">11250.00</text><text x="44.5" y="807" text-anchor="middle">Dec 7</text><text x="163.5" y="807" text-anchor="middle">Dec 8</text><text x="282.5" y="807" text-anchor="middle">Dec 9</text><text x="371.5" y="807" text-anchor="middle">Dec 11</text><text x="521.5" y="807" text-anchor="middle">Dec 13</text><text x="640.5" y="807" text-anchor="middle">Dec 14</text><text x="759.5" y="807" text-anchor="middle">Dec 15</text><text x="878.5" y="807" text-anchor="middle">Dec 16</text><text x="966.5" y="807" text-anchor="middle">Dec 18</text><text x="1116.5" y="807" text-anchor="middle">Dec 20</text><text x="1235.5" y="807" text-anchor="middle">Dec 21</text></g>
<text x="103" y="776" font-size="11" fill="#222" text-anchor="end" letter-spacing="-0.3">© 2022 NinjaTrader, LLC</text>
<g stroke="#c8c8c8" stroke-width="2" fill="none"><path d="M1327 16H1310M1317.3 9L1310 16L1317.3 23"/></g>
<path d="M1335.5 710.5L1341.5 703H1397V718H1341.5Z" fill="#000"/>
<text x="1351" y="715" font-size="11" fill="#fff" stroke="#fff" stroke-width="0.2" letter-spacing="-0.35">11320.00</text>
</svg>
</body></html>
